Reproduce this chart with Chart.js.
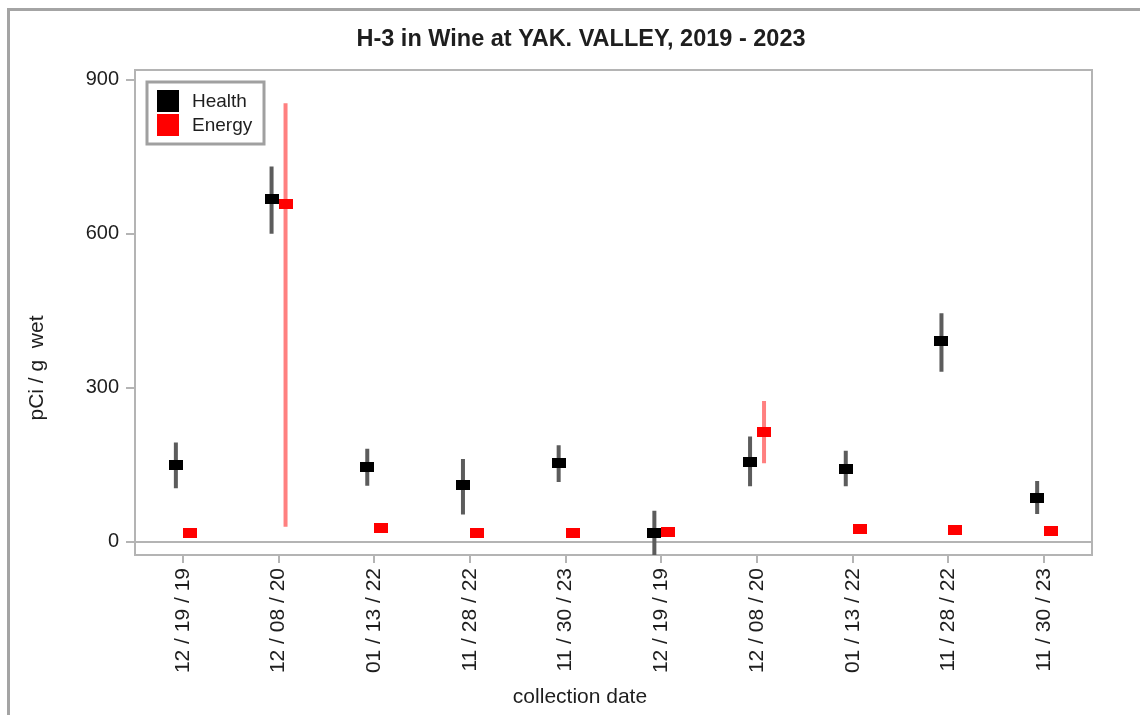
<!DOCTYPE html>
<html>
<head>
<meta charset="utf-8">
<style>
    body{
        margin: 0;
        background: #fff;
    }
    .wrap{
        position: relative;
        width: 1140px;
        height: 715px;
    }
</style>
</head>
<body>
<div class="wrap"><canvas id="chart" width="1140" height="715"></canvas></div>
<script src="https://cdn.jsdelivr.net/npm/chart.js@4"></script>
<script>
    // collection dates (x categories)
    const dates = ['12 / 19 / 19', '12 / 08 / 20', '01 / 13 / 22', '11 / 28 / 22', '11 / 30 / 23',
                   '12 / 19 / 19', '12 / 08 / 20', '01 / 13 / 22', '11 / 28 / 22', '11 / 30 / 23'];

    // Health results with error bar ends
    const healthVal  = [149, 667, 146, 110, 153, 16, 156, 141, 391, 86];
    const healthLow  = [104, 600, 109, 53, 116, -28, 108, 108, 331, 54];
    const healthHigh = [193, 731, 181, 161, 188, 60, 205, 177, 445, 118];

    // Energy results with error bar ends
    const energyVal  = [16, 657, 27, 16, 16, 18, 213, 25, 23, 20];
    const energyLow  = [9, 29, 20, 9, 9, 11, 153, 18, 16, 13];
    const energyHigh = [23, 854, 34, 23, 23, 25, 274, 32, 30, 27];

    const yTicks = [0, 300, 600, 900];

    const FONT = "'Liberation Sans', Arial, sans-serif";
    const TEXT = '#1e1e1e';
    const LINE = '#b4b4b4';
    Chart.defaults.font.family = FONT;

    // rectangular marker, wider than tall
    function markerImg(color){
        const c = document.createElement('canvas');
        c.width = 14;
        c.height = 10;
        const g = c.getContext('2d');
        g.fillStyle = color;
        g.fillRect(0, 0, 14, 10);
        return c;
    }

    const shift = 0.073; // side by side inside a category

    function points(vals, dx){
        return vals.map((v, i) => ({x: i + dx, y: v}));
    }
    function errorSegs(lo, hi, dx){
        const out = [];
        lo.forEach((l, i) => {
            out.push({x: i + dx, y: l}, {x: i + dx, y: hi[i]}, {x: i + dx, y: null});
        });
        return out;
    }

    const decor = {
        id: 'decor',
        beforeDraw(chart){
            const ctx = chart.ctx;
            ctx.save();
            ctx.strokeStyle = '#a4a4a4';
            ctx.lineWidth = 3;
            ctx.beginPath();
            ctx.moveTo(8.5, chart.height);
            ctx.lineTo(8.5, 9.5);
            ctx.lineTo(chart.width, 9.5);
            ctx.stroke();
            ctx.restore();
        },
        beforeDatasetsDraw(chart){
            const a = chart.chartArea;
            const ctx = chart.ctx;
            ctx.save();
            ctx.strokeStyle = LINE;
            ctx.lineWidth = 2;
            ctx.strokeRect(a.left, a.top, a.right - a.left, a.bottom - a.top);
            ctx.restore();
        },
        afterDraw(chart){
            const a = chart.chartArea;
            const ctx = chart.ctx;
            ctx.save();
            ctx.fillStyle = TEXT;
            ctx.textAlign = 'center';
            ctx.textBaseline = 'middle';
            // title
            ctx.font = 'bold 23.5px ' + FONT;
            ctx.fillText('H-3 in Wine at YAK. VALLEY, 2019 - 2023', 581, 40);
            // x axis title
            ctx.font = '21px ' + FONT;
            ctx.fillText('collection date', 580, 697);
            // y axis title
            ctx.save();
            ctx.translate(37, 368);
            ctx.rotate(-Math.PI / 2);
            ctx.fillText('pCi / g  wet', 0, 0);
            ctx.restore();
            // legend
            const lx = a.left + 12, ly = a.top + 12;
            ctx.strokeStyle = '#a0a0a0';
            ctx.lineWidth = 3;
            ctx.strokeRect(lx, ly, 117, 62);
            const items = chart.data.datasets.filter(d => d.legend);
            ctx.font = '19px ' + FONT;
            ctx.textAlign = 'left';
            items.forEach((d, i) => {
                ctx.fillStyle = d.legend;
                ctx.fillRect(lx + 10, ly + 8 + i * 24, 22, 22);
                ctx.fillStyle = TEXT;
                ctx.fillText(d.label, lx + 45, ly + 20 + i * 24);
            });
            ctx.restore();
        }
    };

    new Chart(document.getElementById('chart'), {
        type: 'scatter',
        data: {
            datasets: [
                {
                    label: 'Health',
                    legend: '#000000',
                    data: points(healthVal, -shift),
                    pointStyle: markerImg('#000000'),
                    pointRadius: 7,
                    order: 1
                },
                {
                    label: 'Energy',
                    legend: '#ff0000',
                    data: points(energyVal, shift),
                    pointStyle: markerImg('#ff0000'),
                    pointRadius: 7,
                    order: 1
                },
                {
                    label: 'Health error',
                    data: errorSegs(healthLow, healthHigh, -shift),
                    showLine: true,
                    spanGaps: false,
                    borderColor: '#5c5c5c',
                    borderWidth: 4,
                    pointRadius: 0,
                    order: 3
                },
                {
                    label: 'Energy error',
                    data: errorSegs(energyLow, energyHigh, shift),
                    showLine: true,
                    spanGaps: false,
                    borderColor: '#ff8080',
                    borderWidth: 4,
                    pointRadius: 0,
                    order: 2
                }
            ]
        },
        options: {
            responsive: false,
            animation: false,
            layout: {padding: {top: 70, right: 48, bottom: 0, left: 0}},
            plugins: {
                legend: {display: false},
                title: {display: false},
                tooltip: {enabled: false}
            },
            scales: {
                x: {
                    type: 'linear',
                    min: -0.5,
                    max: 9.5,
                    afterBuildTicks: s => { s.ticks = dates.map((d, i) => ({value: i})); },
                    afterFit: s => { s.height = 160; },
                    ticks: {
                        callback: v => dates[v],
                        autoSkip: false,
                        minRotation: 90,
                        maxRotation: 90,
                        padding: 5,
                        color: TEXT,
                        font: {size: 21}
                    },
                    grid: {color: 'transparent', tickColor: LINE, tickLength: 8, lineWidth: 2},
                    border: {display: false}
                },
                y: {
                    min: -26,
                    max: 919,
                    afterBuildTicks: s => { s.ticks = yTicks.map(v => ({value: v})); },
                    afterFit: s => { s.width = 135; },
                    ticks: {padding: 7, color: TEXT, font: {size: 20}},
                    grid: {
                        color: c => (c.tick && c.tick.value === 0) ? LINE : 'transparent',
                        tickColor: LINE,
                        tickLength: 9,
                        lineWidth: 2
                    },
                    border: {display: false}
                }
            }
        },
        plugins: [decor]
    });
</script>
</body>
</html>
